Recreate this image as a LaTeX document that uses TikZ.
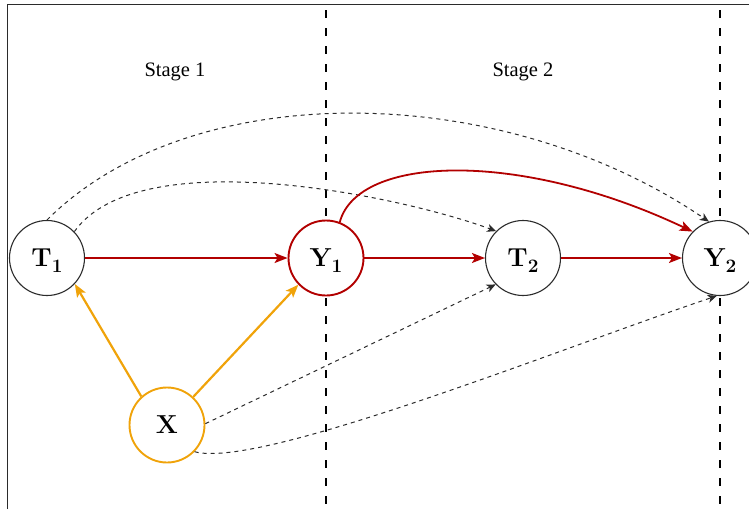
\documentclass[tikz,border=0pt]{standalone}
\usepackage{fontspec}
\newfontfamily\stagefont{Liberation Serif}
\usetikzlibrary{arrows.meta}
\definecolor{edgered}{HTML}{B20000}
\definecolor{edgeorange}{HTML}{F0A30A}
\definecolor{linegray}{HTML}{2B2B2B}

% bold variable name with a bold, lowered index
\newcommand{\varname}[2]{\textbf{#1}\smash{\raisebox{-6pt}{\fontsize{19}{19}\selectfont\bfseries #2}}}

\begin{document}
\begin{tikzpicture}[x=1pt, y=-1pt,
  var/.style={circle, draw=linegray, line width=1.1pt, fill=white,
    minimum size=75pt, inner sep=0pt, font=\fontsize{26}{28}\selectfont},
  redvar/.style={var, draw=edgered, line width=1.9pt},
  orangevar/.style={var, draw=edgeorange, line width=1.9pt},
  stagelabel/.style={font=\stagefont\fontsize{20.5}{23}\selectfont},
  divider/.style={draw=black, line width=2.2pt, dash pattern=on 8pt off 10pt},
  causal/.style={draw=edgered, line width=1.8pt,
    -{Stealth[length=13pt, width=10pt, inset=3pt]}},
  confound/.style={draw=edgeorange, line width=2.2pt,
    -{Stealth[length=13pt, width=10pt, inset=3pt]}},
  lagged/.style={draw=linegray, line width=1pt, dash pattern=on 4pt off 4pt,
    -{Stealth[length=9pt, width=8pt, inset=2.5pt]}},
]
\useasboundingbox (0,0) rectangle (749,509);

% outer frame (top and left edges)
\draw[linegray, line width=1.5pt] (7.5,509) -- (7.5,4.5) -- (749,4.5);

% stage dividers
\coordinate (d1top) at (326,10);
\coordinate (d1bot) at (326,509);
\coordinate (d2top) at (720,10);
\coordinate (d2bot) at (720,509);
\draw[divider] (d1top) -- (d1bot);
\draw[divider] (d2top) -- (d2bot);

% stage titles
\node[stagelabel] (s1) at (175,72) {Stage 1};
\node[stagelabel] (s2) at (523,72) {Stage 2};

% variables
\node[var] (T1) at (47,258) {\varname{T}{1}};
\node[redvar] (Y1) at (326,258) {\varname{Y}{1}};
\node[var] (T2) at (523,258) {\varname{T}{2}};
\node[var] (Y2) at (720,258) {\varname{Y}{2}};
\node[orangevar] (X) at (167,425) {\textbf{X}};

% lagged (dashed) dependencies
\draw[lagged] (T1.90) .. controls +(143,-143) and +(-210,-143) .. (Y2.107);
\draw[lagged] (T1.44) .. controls +(65,-91) and +(-95,-35) .. (T2.135);
\draw[lagged] (X.2) -- (T2.224);
\draw[lagged] (X.316) .. controls +(65,18) and +(-155,52) .. (Y2.265);

% main causal chain
\draw[causal] (T1) -- (Y1);
\draw[causal] (Y1) -- (T2);
\draw[causal] (T2) -- (Y2);
\draw[causal] (Y1.69) .. controls +(18,-67) and +(-173,-82) .. (Y2.136);

% confounder
\draw[confound] (X.132) -- (T1.317);
\draw[confound] (X.47) -- (Y1.224);
\end{tikzpicture}
\end{document}
